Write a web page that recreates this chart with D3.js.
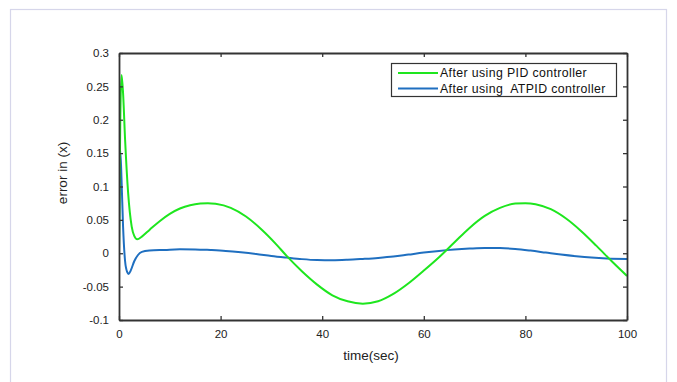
<!DOCTYPE html>
<html><head><meta charset="utf-8">
<script src="https://cdn.jsdelivr.net/npm/d3@7/dist/d3.min.js"></script>
<style>body{margin:0;background:#fff}svg{display:block}</style>
</head><body>
<script>
// Data
const pidTime = [0,0.25,0.5,0.8,1.2,1.8,2.5,3.0,3.6,4.5,6,8,10,12,14,16,17.5,19,22,25,28,31,33,36,39,42,45,48,51,54,57,60,63,66,69,72,75,78,80,82,85,88,91,94,97,100];
const pidError = [0,0.2,0.267,0.24,0.17,0.09,0.04,0.026,0.021,0.025,0.035,0.048,0.059,0.067,0.072,0.0745,0.075,0.074,0.068,0.055,0.036,0.013,-0.004,-0.027,-0.047,-0.063,-0.072,-0.0755,-0.072,-0.061,-0.045,-0.026,-0.006,0.016,0.038,0.056,0.068,0.0745,0.075,0.0735,0.066,0.052,0.033,0.011,-0.012,-0.034];
const atpidTime = [0,0.1,0.25,0.5,0.8,1.2,1.6,1.9,2.3,3,3.7,4.5,6,9,12,15,18,21,24,27,30,33,36,39,42,45,48,51,54,57,60,63,66,69,72,75,78,81,84,87,90,93,96,100];
const atpidError = [0,0.1,0.154,0.11,0.04,-0.012,-0.028,-0.031,-0.026,-0.012,-0.003,0.002,0.004,0.005,0.006,0.0058,0.0048,0.0035,0.0015,-0.001,-0.004,-0.0065,-0.0088,-0.0102,-0.0105,-0.0098,-0.0085,-0.007,-0.005,-0.002,0.001,0.0035,0.0055,0.007,0.008,0.0078,0.0065,0.004,0.001,-0.002,-0.0045,-0.0065,-0.0078,-0.0085];
const xTicks = [0,20,40,60,80,100];
const yTicks = [-0.1,-0.05,0,0.05,0.1,0.15,0.2,0.25,0.3];
const yTickLabels = ["-0.1","-0.05","0","0.05","0.1","0.15","0.2","0.25","0.3"];
const seriesNames = ["After using PID controller","After using  ATPID controller"];
const seriesColors = ["#1ee61e","#1f6fc0"];

const W=677,H=382;
const svg=d3.select("body").append("svg").attr("width",W).attr("height",H);
svg.append("rect").attr("x",10.5).attr("y",9.5).attr("width",656).attr("height",380)
  .attr("fill","#fff").attr("stroke","#d6d6ea").attr("stroke-width",1.2);

const m={l:119,r:627,t:53,b:320};
const x=d3.scaleLinear().domain([0,100]).range([m.l,m.r]);
const y=d3.scaleLinear().domain([-0.1,0.3]).range([m.b,m.t]);
const font="'Liberation Sans', Arial, sans-serif";

const line=d3.line().x(d=>x(d[0])).y(d=>y(d[1])).curve(d3.curveMonotoneX);
svg.append("clipPath").attr("id","c").append("rect")
  .attr("x",m.l).attr("y",m.t-2).attr("width",m.r-m.l).attr("height",m.b-m.t+2);
const g=svg.append("g").attr("clip-path","url(#c)");
g.append("path").datum(atpidTime.map((t,i)=>[t,atpidError[i]]))
  .attr("d",line).attr("fill","none").attr("stroke",seriesColors[1]).attr("stroke-width",2);
g.append("path").datum(pidTime.map((t,i)=>[t,pidError[i]]))
  .attr("d",line).attr("fill","none").attr("stroke",seriesColors[0]).attr("stroke-width",2);

// axes (box with inward ticks)
const ax=svg.append("g");
const styleAxis=(sel)=>{sel.select(".domain").attr("stroke","#333").attr("stroke-width",1.8);
  sel.selectAll(".tick line").attr("stroke","#333").attr("stroke-width",1.3);
  sel.selectAll("text").attr("font-family",font).attr("font-size",11.5).attr("fill","#222");};
ax.append("g").attr("transform",`translate(0,${m.b})`)
  .call(d3.axisBottom(x).tickValues(xTicks).tickSizeInner(-4).tickSizeOuter(0).tickPadding(10))
  .call(styleAxis);
ax.append("g").attr("transform",`translate(0,${m.t})`)
  .call(d3.axisTop(x).tickValues(xTicks).tickSizeInner(-4).tickSizeOuter(0).tickFormat(""))
  .call(styleAxis);
ax.append("g").attr("transform",`translate(${m.l},0)`)
  .call(d3.axisLeft(y).tickValues(yTicks).tickSizeInner(-4).tickSizeOuter(0).tickPadding(10)
    .tickFormat((d,i)=>yTickLabels[i]))
  .call(styleAxis);
ax.append("g").attr("transform",`translate(${m.r},0)`)
  .call(d3.axisRight(y).tickValues(yTicks).tickSizeInner(-4).tickSizeOuter(0).tickFormat(""))
  .call(styleAxis);

svg.append("text").attr("x",(m.l+m.r)/2-2).attr("y",360).attr("text-anchor","middle")
  .attr("font-family",font).attr("font-size",13.5).attr("fill","#222").text("time(sec)");
svg.append("text").attr("transform","translate(67,173) rotate(-90)").attr("text-anchor","middle")
  .attr("font-family",font).attr("font-size",13.5).attr("fill","#222").text("error in (x)");

// legend
const lg=svg.append("g");
lg.append("rect").attr("x",391.5).attr("y",63.5).attr("width",225).attr("height",33)
  .attr("fill","#fff").attr("stroke","#333").attr("stroke-width",1.2);
seriesNames.forEach((n,i)=>{
  const yy=73+i*15.5;
  lg.append("line").attr("x1",398).attr("x2",438).attr("y1",yy).attr("y2",yy)
    .attr("stroke",seriesColors[i]).attr("stroke-width",2);
  lg.append("text").attr("x",440).attr("y",yy+4).attr("font-family",font).attr("font-size",12.3)
    .attr("letter-spacing",0.4).attr("fill","#111").style("white-space","pre").text(n);
});
</script>
</body></html>
